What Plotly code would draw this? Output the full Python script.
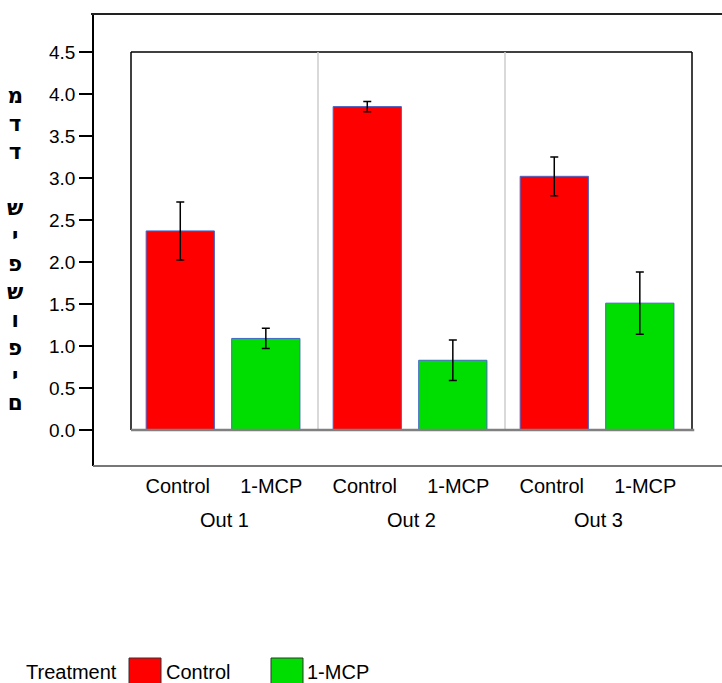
import plotly.graph_objects as go

# ---- data ----
groups = ["Out 1", "Out 2", "Out 3"]
treatments = ["Control", "1-MCP"]
control_vals = [2.37, 3.85, 3.02]
control_err = [0.345, 0.06, 0.23]
mcp_vals = [1.09, 0.83, 1.51]
mcp_err = [0.12, 0.24, 0.37]
y_ticks = [0.0, 0.5, 1.0, 1.5, 2.0, 2.5, 3.0, 3.5, 4.0, 4.5]
y_label_letters = ["מ", "ד", "ד", "\u00a0", "ש", "י", "פ", "ש", "ו", "פ", "י", "ם"]
legend_title = "Treatment"

# categories: one per (group, treatment) pair, labelled with the treatment
ctrl_cats = [g + " / " + treatments[0] for g in groups]
mcp_cats = [g + " / " + treatments[1] for g in groups]
cat_order = [c for pair in zip(ctrl_cats, mcp_cats) for c in pair]
cat_text = [treatments[0], treatments[1]] * len(groups)

# ---- layout geometry (pixels) ----
W, H = 722, 683
L, R, T, B = 93, 0, 14, 217
PW, PH = W - L - R, H - T - B


def px_x(p):
    return (p - L) / PW


def px_y(p):
    return (H - B - p) / PH


FONT = "Liberation Sans, Arial, sans-serif"
RED = "#ff0000"
GREEN = "#00dd00"
EDGE = "#4466cc"

fig = go.Figure()
fig.add_trace(go.Bar(
    x=ctrl_cats, y=control_vals, name=treatments[0],
    marker=dict(color=RED, line=dict(color=EDGE, width=1)),
    error_y=dict(type="data", array=control_err, color="black", thickness=1.5, width=4),
    width=0.73, offset=-0.338, showlegend=False,
))
fig.add_trace(go.Bar(
    x=mcp_cats, y=mcp_vals, name=treatments[1],
    marker=dict(color=GREEN, line=dict(color=EDGE, width=1)),
    error_y=dict(type="data", array=mcp_err, color="black", thickness=1.5, width=4),
    width=0.73, offset=-0.423, showlegend=False,
))

shapes = []
# inner box (top, left, right)
for (x0, y0, x1, y1) in [(0, 4.5, 1, 4.5), (0, 0, 0, 4.5), (1, 0, 1, 4.5)]:
    shapes.append(dict(type="line", xref="x domain", yref="y", x0=x0, x1=x1, y0=y0, y1=y1,
                       line=dict(color="black", width=1.5), layer="below"))
# group separators
for i in range(1, len(groups)):
    xd = i / len(groups)
    shapes.append(dict(type="line", xref="x domain", yref="y", x0=xd, x1=xd, y0=0, y1=4.5,
                       line=dict(color="#cccccc", width=1.5), layer="below"))
# zero line
shapes.append(dict(type="line", xref="x domain", yref="y", x0=0, x1=1.004, y0=0, y1=0,
                   line=dict(color="#808080", width=2.5), layer="above"))
# outer frame top / bottom
shapes.append(dict(type="line", xref="paper", yref="paper", x0=px_x(91), x1=1, y0=1, y1=1,
                   line=dict(color="#222222", width=2)))
shapes.append(dict(type="line", xref="paper", yref="paper", x0=0, x1=1, y0=0, y1=0,
                   line=dict(color="#777777", width=2)))
# manual legend swatches
for (xa, xb, col) in [(129, 161, RED), (271, 303, GREEN)]:
    shapes.append(dict(type="rect", xref="paper", yref="paper",
                       x0=px_x(xa), x1=px_x(xb), y0=px_y(658), y1=px_y(695),
                       fillcolor=col, line=dict(color="#333333", width=1)))

annotations = [
    dict(text="<br>".join(y_label_letters), xref="paper", yref="paper",
         x=px_x(15), y=px_y(249), xanchor="center", yanchor="middle", showarrow=False,
         font=dict(family="DejaVu Sans, sans-serif", size=21.5, color="black", weight="bold")),
    dict(text=legend_title, xref="paper", yref="paper", x=px_x(24), y=px_y(672),
         xanchor="left", yanchor="middle", showarrow=False,
         font=dict(family=FONT, size=20, color="black")),
    dict(text=treatments[0], xref="paper", yref="paper", x=px_x(164), y=px_y(672),
         xanchor="left", yanchor="middle", showarrow=False,
         font=dict(family=FONT, size=20, color="black")),
    dict(text=treatments[1], xref="paper", yref="paper", x=px_x(305), y=px_y(672),
         xanchor="left", yanchor="middle", showarrow=False,
         font=dict(family=FONT, size=20, color="black")),
]
# group labels under the treatment tick labels
for i, g in enumerate(groups):
    annotations.append(dict(text=g, xref="x domain", yref="paper",
                            x=(i + 0.5) / len(groups), y=px_y(520),
                            xanchor="center", yanchor="middle", showarrow=False,
                            font=dict(family=FONT, size=20, color="black")))

fig.update_layout(
    width=W, height=H,
    margin=dict(l=L, r=R, t=T, b=B, pad=0),
    paper_bgcolor="white", plot_bgcolor="white",
    barmode="overlay",
    font=dict(family=FONT, size=20, color="black"),
    xaxis=dict(
        type="category",
        categoryorder="array", categoryarray=cat_order,
        tickmode="array", tickvals=cat_order, ticktext=cat_text,
        domain=[px_x(131), px_x(692)],
        anchor="y",
        showgrid=False, zeroline=False, showline=False, ticks="",
        ticklabelstandoff=6,
        tickfont=dict(family=FONT, size=20, color="black"),
        range=[-0.5, 5.5],
    ),
    yaxis=dict(
        anchor="free", position=0,
        range=[-(H - B - 430) / 84.0, (430 - T) / 84.0],
        tickvals=y_ticks, tickformat=".1f",
        ticks="outside", ticklen=13, tickwidth=1.5, tickcolor="black",
        showline=True, linecolor="black", linewidth=1.5,
        showgrid=False, zeroline=False,
        tickfont=dict(family=FONT, size=19, color="black"),
    ),
    shapes=shapes,
    annotations=annotations,
)

fig.write_html("out.html")
